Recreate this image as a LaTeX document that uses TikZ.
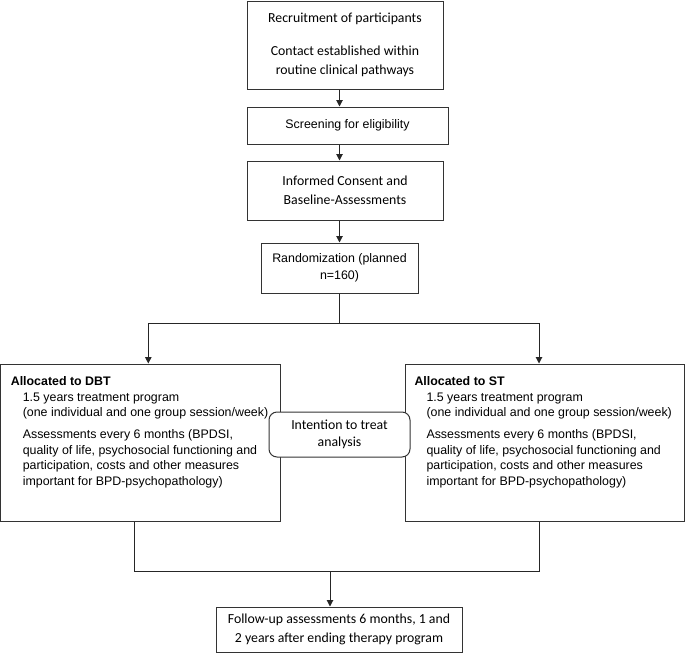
\documentclass[tikz,border=0pt]{standalone}
\usepackage{fontspec}
\setmainfont{Carlito}
\newfontfamily\arialfont{Liberation Sans}
\usetikzlibrary{arrows.meta}

\newcommand{\armtext}[1]{\parbox[c][131pt][t]{260pt}{\raggedright
\textbf{#1}\\
\hspace*{12pt}1.5 years treatment program\\
\hspace*{12pt}(one individual and one group session/week)\\[6.5pt]
\hspace*{12pt}Assessments every 6 months (BPDSI,\\
\hspace*{12pt}quality of life, psychosocial functioning and\\
\hspace*{12pt}participation, costs and other measures\\
\hspace*{12pt}important for BPD-psychopathology)}}

\begin{document}
\begin{tikzpicture}[x=1pt, y=-1pt]
\tikzstyle{stage} = [rectangle, draw=black!80, line width=1pt, inner sep=0pt, align=center, font=\fontsize{13.8}{19}\selectfont]
\tikzstyle{arialstage} = [stage, font=\arialfont\fontsize{12.4}{17}\selectfont]
\tikzstyle{arm} = [rectangle, draw=black!80, line width=1pt, inner sep=0pt, font=\arialfont\fontsize{12.4}{15.5}\selectfont]
\tikzstyle{itt} = [stage, rounded corners=8pt, fill=white, font=\fontsize{13.8}{17}\selectfont]
\tikzstyle{arrow} = [draw=black!85, line width=1pt, -{Triangle[length=6.5pt, width=6.5pt]}]
\tikzstyle{line} = [draw=black!85, line width=1pt]

\useasboundingbox (0,0) rectangle (685,653);

\node (rec) [stage, minimum width=196, minimum height=88] at (345,45) {Recruitment of participants\\[14pt]Contact established within\\routine clinical pathways};
\node (screen) [arialstage, minimum width=201, minimum height=37] at (347.5,125.5) {Screening for eligibility};
\node (consent) [stage, minimum width=196, minimum height=59] at (345,190.5) {Informed Consent and\\Baseline-Assessments};
\node (rand) [arialstage, minimum width=157, minimum height=50] at (339.5,268) {Randomization (planned\\n=160)};

\node (dbt) [arm, minimum width=280, minimum height=157] at (140.8,442.5) {\armtext{Allocated to DBT}};
\node (st) [arm, minimum width=279, minimum height=157] at (544.5,442.5) {\armtext{Allocated to ST}};
\node (itt) [itt, minimum width=141, minimum height=45] at (339.5,434.5) {Intention to treat\\analysis};

\node (fup) [stage, minimum width=246, minimum height=45] at (339,629.5) {Follow-up assessments 6 months, 1 and\\2 years after ending therapy program};

\draw [arrow] (rec.south -| rand) -- (screen.north -| rand);
\draw [arrow] (screen.south -| rand) -- (consent.north -| rand);
\draw [arrow] (consent.south -| rand) -- (rand.north);

\coordinate (split) at (339.5,323);
\draw [line] (rand.south) -- (split);
\draw [arrow] (split) -| ([xshift=7.5pt]dbt.north);
\draw [arrow] (split) -| ([xshift=-5.5pt]st.north);

\coordinate (join) at (330,571);
\draw [line] ([xshift=-6.8pt]dbt.south) |- (join);
\draw [line] ([xshift=-5.5pt]st.south) |- (join);
\draw [arrow] (join) -- (join |- fup.north);

\end{tikzpicture}
\end{document}
